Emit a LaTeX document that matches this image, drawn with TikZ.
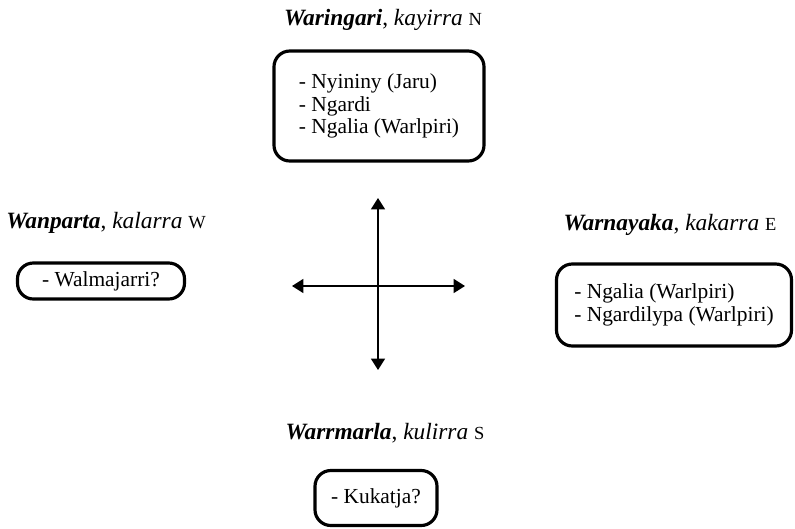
\documentclass[tikz,border=0pt]{standalone}
\usepackage{fontspec}
\setmainfont{Liberation Serif}
\usetikzlibrary{arrows.meta}
\newcommand{\dirmark}[1]{{\fontsize{10.5}{11}\selectfont #1}}
\begin{document}
\begin{tikzpicture}[x=0.02cm, y=-0.02cm,
	dirbox/.style={draw, line width=1.8pt, rounded corners=9pt, align=left, font=\fontsize{12.2}{13}\selectfont},
	dirtitle/.style={font=\fontsize{13.3}{14}\selectfont},
	axis/.style={line width=0.9pt, {Triangle[width=8pt,length=6.5pt]}-{Triangle[width=8pt,length=6.5pt]}}]
	\useasboundingbox (0, 0) rectangle (795, 528);

	% Direction headings
	\node[dirtitle] (tN) at (383, 20) {\textbf{\textit{Waringari}}, \textit{kayirra} \dirmark{N}};
	\node[dirtitle] (tW) at (106, 223) {\textbf{\textit{Wanparta}}, \textit{kalarra} \dirmark{W}};
	\node[dirtitle] (tE) at (670, 225) {\textbf{\textit{Warnayaka}}, \textit{kakarra} \dirmark{E}};
	\node[dirtitle] (tS) at (385, 433) {\textbf{\textit{Warrmarla}}, \textit{kulirra} \dirmark{S}};

	% Boxes with the names
	\node[dirbox, minimum width=210*0.02cm, minimum height=110*0.02cm] (bN) at (379, 106)
		{- Nyininy (Jaru)\\- Ngardi\\- Ngalia (Warlpiri)};
	\node[dirbox, minimum width=167*0.02cm, minimum height=36*0.02cm] (bW) at (101, 281)
		{- Walmajarri?};
	\node[dirbox, minimum width=235*0.02cm, minimum height=82*0.02cm] (bE) at (674, 305)
		{- Ngalia (Warlpiri)\\- Ngardilypa (Warlpiri)};
	\node[dirbox, minimum width=122*0.02cm, minimum height=55*0.02cm] (bS) at (376, 498)
		{- Kukatja?};

	% Compass cross
	\coordinate (cN) at (378, 198);
	\coordinate (cS) at (378, 370);
	\coordinate (cW) at (292, 286);
	\coordinate (cE) at (465, 286);
	\draw[axis] (cN) -- (cS);
	\draw[axis] (cW) -- (cE);
\end{tikzpicture}
\end{document}
